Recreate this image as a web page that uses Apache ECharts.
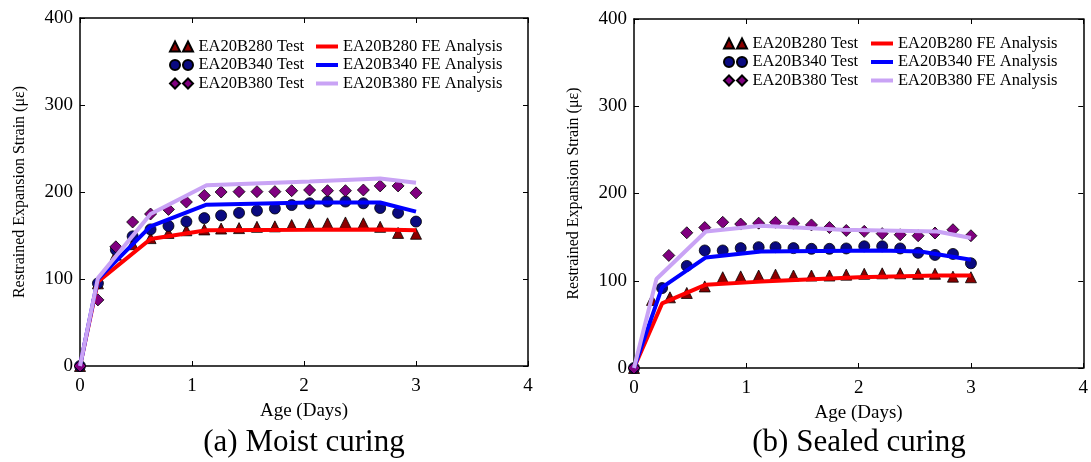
<!DOCTYPE html>
<html>
<head>
<meta charset="utf-8">
<script src="https://cdn.jsdelivr.net/npm/echarts@6/dist/echarts.min.js"></script>
<style>
html,body{margin:0;padding:0;background:#fff;}
#c{width:1091px;height:462px;}
</style>
</head>
<body>
<div id="c"></div>
<script>
// ---------- data ----------
const xTicks = [0, 1, 2, 3, 4];
const yTicks = [0, 100, 200, 300, 400];
const seriesNames = ['EA20B280 Test', 'EA20B340 Test', 'EA20B380 Test',
                     'EA20B280 FE Analysis', 'EA20B340 FE Analysis', 'EA20B380 FE Analysis'];
const captions = ['(a) Moist curing', '(b) Sealed curing'];

// (a) Moist curing - test
const moistTestAge = [0, 0.16, 0.32, 0.47, 0.63, 0.79, 0.95, 1.11, 1.26, 1.42, 1.58, 1.74, 1.89, 2.05, 2.21, 2.37, 2.53, 2.68, 2.84, 3.0];
const moistB280 = [0, 95, 128, 140, 147, 153, 156, 157, 158, 158.5, 160, 160.5, 162, 163, 164, 165, 164, 160, 153, 152];
const moistB340 = [0, 95, 133.6, 149, 157, 161, 166, 170, 173, 176, 178.5, 181, 185, 187, 189, 189, 187, 181.6, 176, 166];
const moistB380 = [0, 76, 137, 165.5, 174.7, 180, 188.5, 196, 200, 200.4, 200.4, 200.4, 201.5, 202.3, 201.5, 201.5, 202.3, 207, 207, 199];
// (a) Moist curing - FE analysis
const moistFEAge = [0, 0.16, 0.63, 1.13, 2.05, 2.68, 3.0];
const moistFE280 = [0, 97, 146, 156, 156.5, 157, 156];
const moistFE340 = [0, 100, 160.5, 185.4, 188, 188, 177.5];
const moistFE380 = [0, 101, 174.7, 207.7, 212, 215.5, 210.7];

// (b) Sealed curing - test
const sealedB280Age = [0, 0.16, 0.32, 0.47, 0.63, 0.79, 0.95, 1.11, 1.26, 1.42, 1.58, 1.74, 1.89, 2.05, 2.21, 2.37, 2.53, 2.68, 2.84, 3.0];
const sealedB280 = [0, 78, 81, 86, 93.5, 104, 105, 106, 107, 106, 106, 106, 107, 108, 108.5, 108.5, 108, 108, 104.7, 104];
const sealedB340Age = [0, 0.25, 0.47, 0.63, 0.79, 0.95, 1.11, 1.26, 1.42, 1.58, 1.74, 1.89, 2.05, 2.21, 2.37, 2.53, 2.68, 2.84, 3.0];
const sealedB340 = [0, 91.6, 117, 134.7, 134.7, 137.4, 138.5, 138.5, 137.4, 136.6, 136.6, 137, 139.5, 139.5, 137, 132, 129.6, 130.7, 120];
const sealedB380Age = [0, 0.31, 0.47, 0.63, 0.79, 0.95, 1.11, 1.26, 1.42, 1.58, 1.74, 1.89, 2.05, 2.21, 2.37, 2.53, 2.68, 2.84, 3.0];
const sealedB380 = [0, 129, 155, 161, 167, 165, 166, 167, 166, 164, 161, 157.6, 156.6, 154, 152.7, 151.6, 154.7, 158.5, 151.6];
// (b) Sealed curing - FE analysis
const sealedFE280Age = [0, 0.25, 0.64, 1.13, 2.0, 2.7, 3.0];
const sealedFE280 = [0, 74, 95.5, 99, 104, 106, 106];
const sealedFE340Age = [0, 0.25, 0.64, 1.13, 2.2, 2.55, 3.0];
const sealedFE340 = [0, 92.4, 126.7, 133.6, 134.7, 133.6, 124];
const sealedFE380Age = [0, 0.2, 0.64, 1.13, 1.85, 2.7, 3.0];
const sealedFE380 = [0, 102, 156.5, 163, 158.5, 156.5, 149];

// ---------- build ----------
const FONT = '"Liberation Serif", "DejaVu Serif", serif';
const zip = (xs, ys) => xs.map((x, i) => [x, ys[i]]);

const markerStyles = [
  {symbol: 'triangle', color: '#8b0000', size: 11},
  {symbol: 'circle', color: '#0a0a80', size: 11},
  {symbol: 'diamond', color: '#800080', size: 12}
];
const lineColors = ['#ff0000', '#0000ff', '#c9a3f5'];

const legendIcons = [
  'path://M5,0 L10,10 L0,10 Z M18,0 L23,10 L13,10 Z',
  'path://M5,0 A5,5 0 1 1 5,10 A5,5 0 1 1 5,0 Z M18,0 A5,5 0 1 1 18,10 A5,5 0 1 1 18,0 Z',
  'path://M5,0 L10,5 L5,10 L0,5 Z M18,0 L23,5 L18,10 L13,5 Z'
];

const grids = [
  {left: 80, top: 18, width: 448, height: 348},
  {left: 634, top: 19, width: 450, height: 349}
];

function axisCommon(show) {
  return {
    min: 0,
    axisLine: {show: true, onZero: false, lineStyle: {color: '#000', width: 1.5}},
    axisTick: {show: true, inside: true, length: 5, lineStyle: {color: '#000', width: 1}},
    splitLine: {show: false},
    axisLabel: {show: show, color: '#000', fontFamily: FONT, fontSize: 19},
  };
}

const xAxes = [], yAxes = [];
[0, 1].forEach(g => {
  xAxes.push(Object.assign(axisCommon(true), {
    type: 'value', gridIndex: g, position: 'bottom', max: xTicks[xTicks.length - 1], interval: 1,
    name: 'Age (Days)', nameLocation: 'middle', nameGap: 36,
    nameTextStyle: {color: '#000', fontFamily: FONT, fontSize: 19},
    axisLabel: {show: true, color: '#000', fontFamily: FONT, fontSize: 19, margin: 11}
  }));
  xAxes.push(Object.assign(axisCommon(false), {
    type: 'value', gridIndex: g, position: 'top', max: xTicks[xTicks.length - 1], interval: 1
  }));
  yAxes.push(Object.assign(axisCommon(true), {
    type: 'value', gridIndex: g, position: 'left', max: yTicks[yTicks.length - 1], interval: 100,
    name: 'Restrained Expansion Strain (με)', nameLocation: 'middle', nameGap: 52, nameRotate: 90,
    nameTextStyle: {color: '#000', fontFamily: FONT, fontSize: 16},
    axisLabel: {show: true, color: '#000', fontFamily: FONT, fontSize: 19, margin: 7}
  }));
  yAxes.push(Object.assign(axisCommon(false), {
    type: 'value', gridIndex: g, position: 'right', max: yTicks[yTicks.length - 1], interval: 100
  }));
});

const panels = [
  {test: [zip(moistTestAge, moistB280), zip(moistTestAge, moistB340), zip(moistTestAge, moistB380)],
   fe: [zip(moistFEAge, moistFE280), zip(moistFEAge, moistFE340), zip(moistFEAge, moistFE380)]},
  {test: [zip(sealedB280Age, sealedB280), zip(sealedB340Age, sealedB340), zip(sealedB380Age, sealedB380)],
   fe: [zip(sealedFE280Age, sealedFE280), zip(sealedFE340Age, sealedFE340), zip(sealedFE380Age, sealedFE380)]}
];

const series = [];
panels.forEach((p, g) => {
  p.test.forEach((d, k) => {
    series.push({
      type: 'scatter', name: seriesNames[k], xAxisIndex: g * 2, yAxisIndex: g * 2,
      data: d, symbol: markerStyles[k].symbol, symbolSize: markerStyles[k].size,
      itemStyle: {color: markerStyles[k].color, borderColor: '#000', borderWidth: 0.8, opacity: 1},
      clip: false, z: 2, silent: true
    });
  });
  p.fe.forEach((d, k) => {
    series.push({
      type: 'line', name: seriesNames[3 + k], xAxisIndex: g * 2, yAxisIndex: g * 2,
      data: d, symbol: 'none', showSymbol: false, color: lineColors[k],
      lineStyle: {color: lineColors[k], width: 4}, z: 3, silent: true, animation: false
    });
  });
});

function makeLegend(left, top, names, icons, iw, ih) {
  return {
    left: left, top: top, orient: 'vertical', itemGap: 1.5, padding: 0,
    itemWidth: iw, itemHeight: ih, selectedMode: false,
    textStyle: {color: '#000', fontFamily: FONT, fontSize: 16.5, lineHeight: 17},
    data: names.map((n, i) => ({name: n, icon: icons ? icons[i] : 'rect'}))
  };
}

const legends = [
  makeLegend(169, 38, seriesNames.slice(0, 3), legendIcons, 24, 10),
  makeLegend(316, 38, seriesNames.slice(3), null, 22, 4),
  makeLegend(723, 35, seriesNames.slice(0, 3), legendIcons, 24, 10),
  makeLegend(871, 35, seriesNames.slice(3), null, 22, 4)
];

const titles = [
  {text: captions[0], left: 304, top: 427, textAlign: 'center', padding: 0,
   textStyle: {color: '#000', fontFamily: FONT, fontSize: 31, fontWeight: 'normal'}},
  {text: captions[1], left: 859, top: 427, textAlign: 'center', padding: 0,
   textStyle: {color: '#000', fontFamily: FONT, fontSize: 31, fontWeight: 'normal'}}
];

const chart = echarts.init(document.getElementById('c'), null, {renderer: 'canvas'});
chart.setOption({
  animation: false,
  backgroundColor: '#fff',
  title: titles,
  legend: legends,
  grid: grids,
  xAxis: xAxes,
  yAxis: yAxes,
  series: series
});
</script>
</body>
</html>
